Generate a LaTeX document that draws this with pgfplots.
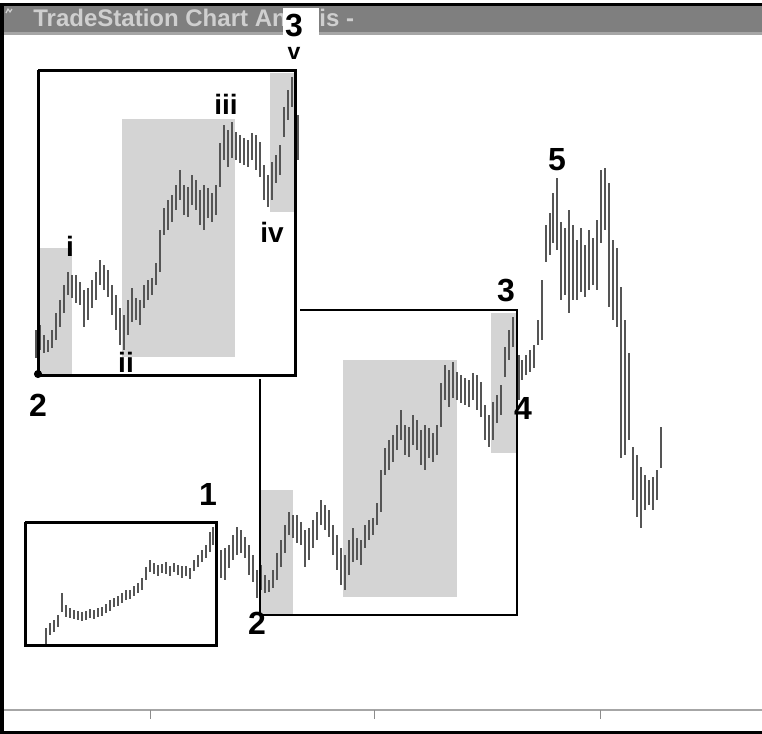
\documentclass[border=0pt]{standalone}
\usepackage{pgfplots}
\pgfplotsset{compat=1.18}
\usepackage{pgfplotstable}
\usepackage{fontspec}
\setmainfont{Liberation Sans}
\definecolor{barc}{HTML}{555555}
\definecolor{shade}{HTML}{D4D4D4}
\definecolor{titlebar}{HTML}{7F7F7F}
\definecolor{titletext}{HTML}{CFCFCF}

% bars: x, low, high in screen pixels (y grows downward)
\pgfplotstableread{
x lo hi
46 628 645
50 623 635
54 620 632
58 615 627
62 593 612
66 605 617
70 608 618
74 610 619
78 611 620
82 612 621
86 611 620
90 609 618
94 610 619
98 608 617
102 607 616
106 604 613
110 600 611
114 598 607
118 596 606
122 593 603
126 590 600
130 590 599
134 586 596
138 583 593
142 578 590
146 567 580
150 560 572
154 563 574
158 565 576
162 564 573
166 562 574
170 566 576
174 563 572
178 565 575
182 566 578
186 566 576
190 568 579
194 560 571
198 555 567
202 550 562
206 545 558
210 532 552
213 527 545
217 540 565
221 550 578
225 548 580
229 545 568
233 535 560
237 527 555
241 530 553
245 537 558
249 545 575
253 555 582
}\wavea

\pgfplotstableread{
x lo hi
257 570 598
261 565 590
265 575 593
269 580 592
273 570 588
277 553 580
281 540 567
285 525 553
289 512 535
293 515 538
297 515 543
301 522 545
305 530 567
309 528 560
313 520 548
317 512 540
321 500 525
325 505 530
329 510 537
333 525 555
337 535 570
341 548 585
345 555 590
349 540 575
353 528 562
357 538 560
361 540 565
365 525 548
369 520 540
373 518 535
377 503 525
381 470 512
385 448 475
389 440 470
393 435 462
397 425 450
401 410 440
405 425 455
409 427 457
413 415 445
417 420 450
421 430 465
425 425 470
429 428 458
433 433 462
437 425 455
441 383 427
445 365 400
449 370 407
453 362 398
457 372 400
461 375 403
465 378 405
469 380 407
473 373 400
477 375 410
481 382 417
485 405 440
489 415 447
493 402 440
497 395 423
501 385 415
505 347 377
509 330 360
513 317 347
519 355 400
}\waveb

\pgfplotstableread{
x lo hi
522 360 380
526 355 375
530 350 372
534 345 368
538 320 345
542 280 340
546 225 262
550 213 255
553 193 243
557 178 250
561 222 300
565 228 295
569 210 313
573 225 300
577 240 300
581 228 292
585 245 297
589 230 290
593 238 285
597 220 290
601 170 243
605 168 230
609 183 307
613 240 320
617 248 327
621 287 458
625 320 455
629 353 440
633 447 500
637 455 517
641 467 528
645 475 510
649 480 505
653 477 510
657 470 500
661 427 468
}\wavec

\tikzset{
  big/.style={font=\fontsize{16}{16}\selectfont\bfseries, inner sep=0pt},
  small/.style={font=\fontsize{14}{14}\selectfont\bfseries, inner sep=0pt},
  ttl/.style={anchor=base west, inner sep=0pt, text=titletext, font=\fontsize{12}{12}\selectfont\bfseries}
}

\begin{document}
\begin{tikzpicture}
\begin{axis}[
  width=381pt, height=367pt, scale only axis,
  xmin=0, xmax=762, ymin=0, ymax=734, y dir=reverse,
  hide axis,
  bars/.style={quiver={u=0, v=\thisrow{hi}-\thisrow{lo}}, barc, line width=1.2pt, mark=none},
  shaded/.style={fill=shade, draw=none, mark=none},
]
% background and window frame
\addplot[fill=white, draw=none] coordinates {(0,0) (762,0) (762,734) (0,734)} -- cycle;
\addplot[fill=titlebar, draw=none] coordinates {(0,6) (762,6) (762,33) (0,33)} -- cycle;
\addplot[fill=black!35, draw=none] coordinates {(0,32) (762,32) (762,35) (0,35)} -- cycle;
\addplot[black, line width=1.5pt] coordinates {(0,4.5) (762,4.5)};
\addplot[black, line width=2pt] coordinates {(2,4) (2,734)};
\addplot[black, line width=1.5pt] coordinates {(0,732) (762,732)};
\addplot[black!35, line width=1pt] coordinates {(4,710) (762,710)};
\addplot[black!45, line width=0.5pt] coordinates {(150,710) (150,719)};
\addplot[black!45, line width=0.5pt] coordinates {(374,710) (374,719)};
\addplot[black!45, line width=0.5pt] coordinates {(600,710) (600,719)};
\addplot[titletext, line width=0.6pt] coordinates {(6,13) (8,9) (10,12) (12,9)};
\node[ttl] at (axis cs:33,26) {TradeStation Chart An};
\node[ttl] at (axis cs:319,26) {is -};
\node[fill=white, minimum width=18pt, minimum height=13.5pt, inner sep=0pt, anchor=north west] at (axis cs:283,8) {};

% shaded wave zones, main chart
\addplot[shaded] coordinates {(261,490) (293,490) (293,615) (261,615)} -- cycle;
\addplot[shaded] coordinates {(343,360) (457,360) (457,597) (343,597)} -- cycle;
\addplot[shaded] coordinates {(491,313) (517,313) (517,453) (491,453)} -- cycle;
% shaded zones, inset
\addplot[shaded] coordinates {(39,248) (72,248) (72,375) (39,375)} -- cycle;
\addplot[shaded] coordinates {(122,119) (235,119) (235,357) (122,357)} -- cycle;
\addplot[shaded] coordinates {(270,73) (294,73) (294,212) (270,212)} -- cycle;

% price bars
\addplot[bars] table[x=x, y=lo] {\wavea};
\addplot[bars] table[x=x, y=lo] {\waveb};
\addplot[bars] table[x=x, y=lo] {\wavec};
% inset: the same bars of the middle box, moved up-left
\addplot[bars] table[x expr=\thisrow{x}-221, y expr=\thisrow{lo}-240] {\waveb};

% boxes
\addplot[black, line width=1.5pt] coordinates {(25,522) (216,522) (216,645) (25,645) (25,522)};
\addplot[black, line width=1.5pt] coordinates {(38,70) (295,70) (295,375) (38,375) (38,70)};
\addplot[black, line width=1.25pt] coordinates {(260,379) (260,615) (517,615) (517,310) (300,310)};
\addplot[black, mark=*, mark size=1.8pt, only marks] coordinates {(38,374)};

% wave labels
\node[big] at (axis cs:294,26) {3};
\node[font=\fontsize{11.5}{11.5}\selectfont\bfseries, inner sep=0pt] at (axis cs:294,53) {v};
\node[small] at (axis cs:70,246) {i};
\node[small] at (axis cs:126,362) {ii};
\node[small] at (axis cs:226,104) {iii};
\node[small] at (axis cs:272,232) {iv};
\node[big] at (axis cs:38,405) {2};
\node[big] at (axis cs:208,494) {1};
\node[big] at (axis cs:257,623) {2};
\node[big] at (axis cs:506,291) {3};
\node[big] at (axis cs:523,408) {4};
\node[big] at (axis cs:557,160) {5};
\end{axis}
\end{tikzpicture}
\end{document}
